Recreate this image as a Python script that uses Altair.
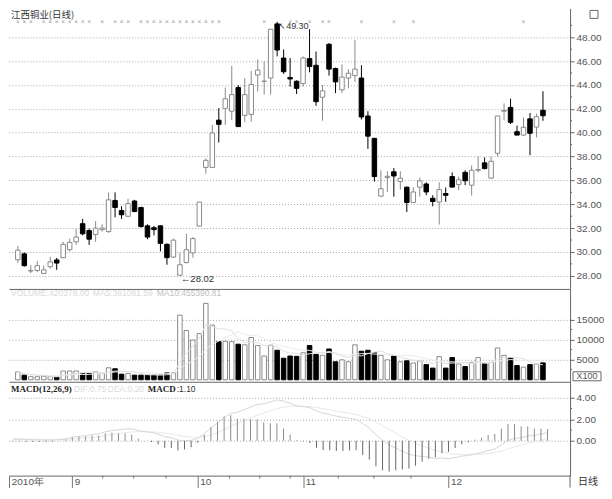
import altair as alt
import pandas as pd

# ---------------- data ----------------
opens = [29.35, 29.84, 28.40, 28.45, 28.20, 28.77, 29.33, 29.52, 30.19, 30.85,
         32.37, 31.79, 31.47, 31.87, 31.71, 34.32, 33.47, 32.99, 34.27, 33.73,
         32.19, 32.03, 32.19, 30.64, 29.57, 28.05, 29.12, 29.92, 32.17, 37.09,
         37.09, 41.05, 42.04, 41.80, 43.78, 41.45, 41.53, 44.84, 44.30, 44.58,
         49.12, 46.26, 44.63, 44.31, 44.12, 46.21, 45.65, 42.97, 47.41, 45.38,
         43.59, 44.58, 44.79, 44.58, 41.40, 39.52, 34.68, 36.24, 36.72, 35.91,
         35.43, 34.15, 35.43, 35.70, 34.50, 34.19, 34.90, 36.32, 35.65, 36.67,
         35.60, 36.85, 37.47, 36.19, 38.27, 41.80, 42.12, 40.08, 39.80, 41.16,
         40.47, 41.88]
highs = [30.50, 29.95, 28.90, 29.25, 28.85, 29.60, 29.50, 30.85, 31.12, 31.92,
         32.77, 31.97, 32.59, 32.32, 34.99, 34.99, 33.84, 34.45, 34.37, 33.79,
         32.32, 32.19, 32.24, 30.72, 31.12, 29.92, 31.52, 31.25, 34.18, 37.84,
         40.65, 42.06, 43.78, 45.59, 43.99, 44.58, 45.19, 46.13, 45.99, 48.70,
         49.30, 46.98, 46.26, 44.39, 46.40, 48.67, 46.80, 43.99, 47.52, 45.46,
         45.73, 45.33, 47.79, 45.65, 41.80, 39.58, 36.85, 36.77, 37.04, 36.77,
         35.49, 35.43, 36.24, 35.83, 34.76, 35.85, 35.40, 36.67, 36.32, 36.85,
         37.25, 38.00, 37.92, 38.00, 41.42, 42.45, 42.85, 40.59, 41.28, 41.65,
         41.60, 43.47]
lows = [29.08, 28.77, 28.22, 28.30, 28.15, 28.60, 28.50, 29.47, 30.05, 30.60,
        31.39, 30.59, 30.85, 31.70, 31.60, 32.90, 32.77, 32.93, 33.33, 32.05,
        31.07, 31.39, 30.05, 28.93, 29.52, 28.02, 29.04, 29.52, 32.17, 36.56,
        37.09, 39.18, 40.65, 41.05, 40.51, 40.91, 40.91, 43.45, 43.19, 43.19,
        46.40, 44.93, 43.86, 43.24, 43.86, 45.06, 42.25, 41.00, 44.79, 43.32,
        43.32, 43.72, 44.26, 41.10, 38.64, 35.91, 34.63, 35.03, 34.63, 35.22,
        33.35, 34.10, 34.63, 34.76, 33.83, 32.30, 34.20, 35.39, 35.17, 35.60,
        34.72, 36.67, 36.93, 36.13, 38.00, 41.04, 40.72, 39.79, 39.71, 38.11,
        39.60, 41.00]
closes = [30.15, 28.85, 28.45, 28.85, 28.50, 29.17, 29.07, 30.64, 30.80, 31.25,
          31.52, 31.07, 32.00, 32.00, 34.37, 33.73, 33.12, 34.05, 33.39, 32.13,
          31.25, 31.87, 30.72, 29.52, 30.99, 28.93, 30.19, 31.12, 34.18, 37.68,
          39.98, 40.70, 42.84, 43.19, 40.51, 43.19, 44.04, 45.25, 44.32, 48.67,
          46.93, 45.11, 44.50, 43.72, 46.26, 45.54, 42.60, 43.51, 45.33, 44.26,
          44.66, 44.98, 45.33, 41.32, 39.71, 36.32, 35.30, 36.34, 36.37, 36.18,
          34.15, 35.03, 35.96, 35.03, 34.23, 35.23, 34.75, 35.44, 36.05, 35.97,
          36.85, 36.91, 36.99, 37.60, 41.40, 41.86, 40.87, 39.80, 40.45, 39.95,
          41.34, 41.42]
volumes = [1950, 1150, 760, 760, 900, 760, 600, 2180, 2180, 2180,
           1550, 1550, 1950, 1550, 2980, 2740, 1390, 1550, 1150, 1150,
           1150, 1150, 1150, 1710, 1710, 16070, 12260, 9880, 11470, 19000,
           13610, 9480, 9560, 9480, 8850, 8700, 10520, 8520, 5910, 8600,
           7340, 5360, 5910, 5830, 6710, 8520, 6310, 6070, 7660, 4480,
           4960, 4480, 8690, 7100, 7340, 6710, 6070, 4960, 5910, 4480,
           4720, 4170, 4700, 3770, 2900, 5750, 2900, 5520, 3930, 3290,
           4330, 5520, 3970, 4330, 7900, 6070, 5520, 3530, 3140, 3770,
           3930, 4204]
macd_hist = [-0.05, -0.05, -0.10, -0.10, -0.10, -0.10, -0.08, 0.02, 0.11, 0.34,
             0.40, 0.40, 0.49, 0.49, 0.71, 0.77, 0.69, 0.69, 0.57, 0.20,
             0.00, -0.11, -0.34, -0.66, -0.66, -0.89, -0.80, -0.60, -0.17, 0.57,
             1.26, 1.77, 2.26, 2.40, 2.06, 2.06, 2.00, 2.00, 1.71, 1.63,
             1.63, 1.14, 0.57, 0.06, -0.05, -0.20, -0.66, -0.86, -0.86, -0.94,
             -0.94, -0.89, -0.86, -1.31, -1.74, -2.37, -2.74, -2.86, -2.74, -2.66,
             -2.57, -2.31, -1.94, -1.66, -1.51, -1.14, -1.03, -0.66, -0.31, -0.14,
             0.11, 0.29, 0.54, 0.63, 1.14, 1.57, 1.54, 1.34, 1.34, 1.14,
             1.14, 1.10]
dif_line = [0.15, 0.15, 0.11, 0.10, 0.08, 0.07, 0.07, 0.12, 0.18, 0.34,
            0.42, 0.47, 0.58, 0.64, 0.84, 0.96, 1.01, 1.10, 1.11, 0.95,
            0.85, 0.78, 0.62, 0.38, 0.30, 0.07, 0.01, 0.04, 0.23, 0.67,
            1.18, 1.65, 2.18, 2.55, 2.64, 2.90, 3.12, 3.37, 3.43, 3.60,
            3.80, 3.70, 3.49, 3.24, 3.18, 3.08, 2.77, 2.56, 2.45, 2.29,
            2.18, 2.09, 2.00, 1.61, 1.18, 0.56, 0.04, -0.38, -0.66, -0.96,
            -1.23, -1.39, -1.45, -1.52, -1.63, -1.59, -1.66, -1.56, -1.42, -1.36,
            -1.22, -1.09, -0.90, -0.77, -0.38, 0.04, 0.21, 0.28, 0.45, 0.49,
            0.63, 0.75]
dea_line = [0.18, 0.17, 0.16, 0.15, 0.13, 0.12, 0.11, 0.11, 0.13, 0.17,
            0.22, 0.27, 0.33, 0.39, 0.48, 0.58, 0.66, 0.75, 0.82, 0.85,
            0.85, 0.83, 0.79, 0.71, 0.63, 0.51, 0.41, 0.34, 0.32, 0.39,
            0.55, 0.77, 1.05, 1.35, 1.61, 1.87, 2.12, 2.37, 2.58, 2.78,
            2.99, 3.13, 3.20, 3.21, 3.20, 3.18, 3.10, 2.99, 2.88, 2.76,
            2.65, 2.53, 2.43, 2.26, 2.05, 1.75, 1.41, 1.05, 0.71, 0.37,
            0.05, -0.24, -0.48, -0.69, -0.88, -1.02, -1.15, -1.23, -1.27, -1.29,
            -1.27, -1.24, -1.17, -1.09, -0.95, -0.75, -0.56, -0.39, -0.22, -0.08,
            0.06, 0.20]
marker_days = [0, 1, 2, 4, 5, 6, 7, 8, 9, 10, 11, 13, 15, 16, 17, 19, 20, 21, 22,
               23, 24, 25, 26, 27, 28, 29, 30, 31, 38, 42, 43, 45, 47, 48, 53, 58,
               61, 78]
month_days = [-0.55, 9, 28, 44, 66]
month_labels = ["2010年", "9", "10", "11", "12"]
week_days = [13.6, 18.3, 23.2, 32.8, 37.4, 42.0, 49.3, 54.7, 60.3]
price_ticks = [28, 30, 32, 34, 36, 38, 40, 42, 44, 46, 48]
price_minor = [29, 31, 33, 35, 37, 39, 41, 43, 45, 47, 49]
vol_ticks = [5000, 10000, 15000]
vol_minor = [2500, 7500, 12500]
macd_ticks = [0, 2, 4]
macd_minor = [1, 3]
title_text = "江西铜业(日线)"

# ---------------- layout ----------------
W = 562
H1, H2, H3 = 281, 93, 94
GRID = "#a6a6a6"
AX = "#666666"
LBL = "#555555"
UPC = "#8a8a8a"

df = pd.DataFrame({"i": list(range(len(opens))), "open": opens, "high": highs,
                   "low": lows, "close": closes, "vol": volumes, "macd": macd_hist,
                   "dif": dif_line, "dea": dea_line})
df["up"] = df["close"] >= df["open"]
base = alt.Chart(df)
one = pd.DataFrame({"a": [0]})

xscale = alt.Scale(domain=[-0.59, 84.41], nice=False, zero=False)
x_hidden = alt.X("i:Q", scale=xscale,
                 axis=alt.Axis(labels=False, ticks=False, grid=False, domain=True,
                               domainColor=AX, title=None))

def yaxis(values, fmt):
    return alt.Axis(orient="right", values=values, format=fmt, grid=True,
                    gridDash=[1, 2], gridColor=GRID, tickSize=4, tickColor=AX,
                    domainColor=AX, labelColor=LBL, labelFontSize=10,
                    labelPadding=2, title=None)

def label(txt, x, y, color, size=9, font="Liberation Sans", weight="normal"):
    return alt.Chart(pd.DataFrame({"t": [txt]})).mark_text(
        align="left", baseline="middle", font=font, fontSize=size, color=color,
        fontWeight=weight).encode(x=alt.value(x), y=alt.value(y), text="t:N")

# ---------------- price panel ----------------
yp = alt.Scale(domain=[26.9, 50.42], nice=False, zero=False)
pax = yaxis(price_ticks, ".2f")
Yp = lambda f: alt.Y(f, scale=yp, axis=pax)

wick = base.mark_rule(strokeWidth=1).encode(
    x=x_hidden, y=Yp("low:Q"), y2="high:Q",
    color=alt.condition("datum.up", alt.value(UPC), alt.value("#000000")))
body = base.mark_bar(size=4.5, strokeWidth=1).encode(
    x=x_hidden, y=Yp("open:Q"), y2="close:Q",
    fill=alt.condition("datum.up", alt.value("#ffffff"), alt.value("#000000")),
    stroke=alt.condition("datum.up", alt.value(UPC), alt.value("#000000")))
pminor = alt.Chart(pd.DataFrame({"v": price_minor})).mark_rule(color=AX).encode(
    y=Yp("v:Q"), x=alt.value(W), x2=alt.value(W + 2))
markers = alt.Chart(pd.DataFrame({"i": marker_days, "p": [49.3] * len(marker_days)})).mark_text(
    text="×", fontSize=6.5, color="#999999").encode(x=x_hidden, y=Yp("p:Q"))
hi_i = highs.index(max(highs))
lo_i = lows.index(min(lows))
hi_ann = alt.Chart(pd.DataFrame({"i": [hi_i], "p": [highs[hi_i]], "t": ["↖" + format(highs[hi_i], ".2f")]})).mark_text(
    align="left", baseline="middle", dx=1, dy=4, fontSize=9, color="#333333",
    font="Liberation Sans").encode(x=x_hidden, y=Yp("p:Q"), text="t:N")
lo_ann = alt.Chart(pd.DataFrame({"i": [lo_i], "p": [lows[lo_i]], "t": ["←" + format(lows[lo_i], ".2f")]})).mark_text(
    align="left", baseline="middle", dx=1, dy=3, fontSize=9.5, color="#333333",
    font="Liberation Sans").encode(x=x_hidden, y=Yp("p:Q"), text="t:N")
ptitle = label(title_text, 2, 7, "#333333", size=9.5, font="Noto Sans CJK SC")
icon = alt.Chart(one).mark_rect(fill="#ffffff", stroke=AX, strokeWidth=1).encode(
    x=alt.value(W + 20), x2=alt.value(W + 28), y=alt.value(2), y2=alt.value(10))

price = alt.layer(wick, body, pminor, markers, hi_ann, lo_ann, ptitle, icon).properties(
    width=W, height=H1)

# ---------------- volume panel ----------------
yv = alt.Scale(domain=[-500, 22600], nice=False, zero=False)
vax = yaxis(vol_ticks, "d")
Yv = lambda f: alt.Y(f, scale=yv, axis=vax)

vbars = base.transform_calculate(zero="0").mark_bar(size=4.5, strokeWidth=1).encode(
    x=x_hidden, y=Yv("vol:Q"), y2="zero:Q",
    fill=alt.condition("datum.up", alt.value("#ffffff"), alt.value("#000000")),
    stroke=alt.condition("datum.up", alt.value(UPC), alt.value("#000000")))
ma5 = base.transform_window(ma5="mean(vol)", frame=[-4, 0], sort=[{"field": "i"}]).mark_line(
    color="#e0e0e0", strokeWidth=1).encode(x=x_hidden, y=Yv("ma5:Q"))
ma10 = base.transform_window(ma10="mean(vol)", frame=[-9, 0], sort=[{"field": "i"}]).mark_line(
    color="#ebebeb", strokeWidth=1).encode(x=x_hidden, y=Yv("ma10:Q"))
vminor = alt.Chart(pd.DataFrame({"v": vol_minor})).mark_rule(color=AX).encode(
    y=Yv("v:Q"), x=alt.value(W), x2=alt.value(W + 2))

vh1 = label("VOLUME:420378.00", 2, 4.5, "#dadada", size=8.5)
vh2 = label("MA5:361081.59", 84, 4.5, "#dadada", size=8.5)
vh3 = label("MA10:455390.81", 148, 4.5, "#bdbdbd", size=8.5)
xbox = alt.Chart(one).mark_rect(fill="#ffffff", stroke=AX, strokeWidth=1).encode(
    x=alt.value(W + 3), x2=alt.value(W + 31), y=alt.value(H2 - 10), y2=alt.value(H2 - 1))
xtxt = alt.Chart(pd.DataFrame({"t": ["X100"]})).mark_text(
    align="center", baseline="middle", fontSize=9, color=LBL, font="Liberation Sans").encode(
    x=alt.value(W + 17), y=alt.value(H2 - 5.5), text="t:N")

vol = alt.layer(vbars, ma10, ma5, vminor, vh1, vh2, vh3, xbox, xtxt).properties(
    width=W, height=H2)

# ---------------- MACD panel ----------------
ym = alt.Scale(domain=[-3.23, 5.48], nice=False, zero=False)
max_ = yaxis(macd_ticks, ".2f")
Ym = lambda f: alt.Y(f, scale=ym, axis=max_)

label_expr = " : ".join(
    f"datum.value == {v} ? '{t}'" for v, t in zip(month_days, month_labels)) + " : ''"
x_dates = alt.X("i:Q", scale=xscale, axis=alt.Axis(
    values=month_days, labelExpr=label_expr, tickSize=12, tickColor="#777777",
    labelAlign="left", labelBaseline="middle", labelPadding=-6, labelOffset=2,
    labelColor=LBL, labelFontSize=10, labelFlush=False, labelOverlap=False,
    labelBound=False, grid=False, domain=True, domainColor=AX, title=None))

hist = base.transform_calculate(zero="0").mark_rule(strokeWidth=1).encode(
    x=x_dates, y=Ym("macd:Q"), y2="zero:Q",
    color=alt.condition("datum.macd >= 0", alt.value("#8c8c8c"), alt.value("#666666")))
difl = base.mark_line(color="#d6d6d6", strokeWidth=1).encode(x=x_dates, y=Ym("dif:Q"))
deal = base.mark_line(color="#e8e8e8", strokeWidth=1).encode(x=x_dates, y=Ym("dea:Q"))
mminor = alt.Chart(pd.DataFrame({"v": macd_minor})).mark_rule(color=AX).encode(
    y=Ym("v:Q"), x=alt.value(W), x2=alt.value(W + 2))
wticks = alt.Chart(pd.DataFrame({"i": week_days})).mark_rule(color="#777777").encode(
    x=x_dates, y=alt.value(H3), y2=alt.value(H3 + 3))
mh1 = label("MACD(12,26,9)", 2, 7.5, "#222222", size=9, font="Liberation Serif", weight="bold")
mh2 = label("DIF:0.75", 65, 7.5, "#dcdcdc", size=8.5)
mh3 = label("DEA:0.20", 99, 7.5, "#dcdcdc", size=8.5)
mh4 = label("MACD", 139, 7.5, "#222222", size=9, font="Liberation Serif", weight="bold")
mh5 = label(":1.10", 168, 7.5, "#333333", size=8.5)
rline = alt.Chart(one).mark_rule(color=AX).encode(
    x=alt.value(W), y=alt.value(H3), y2=alt.value(H3 + 12))
rtxt = label("日线", W + 8, H3 + 6.5, "#333333", size=10, font="Noto Sans CJK SC")

macd = alt.layer(deal, difl, hist, mminor, wticks, mh1, mh2, mh3, mh4, mh5, rline, rtxt).properties(
    width=W, height=H3)

chart = alt.vconcat(price, vol, macd, spacing=0).properties(padding=0).configure_view(
    stroke=None).configure_axis(labelFont="Liberation Sans")

chart.save("out.html", embed_options={"renderer": "svg", "actions": False})
